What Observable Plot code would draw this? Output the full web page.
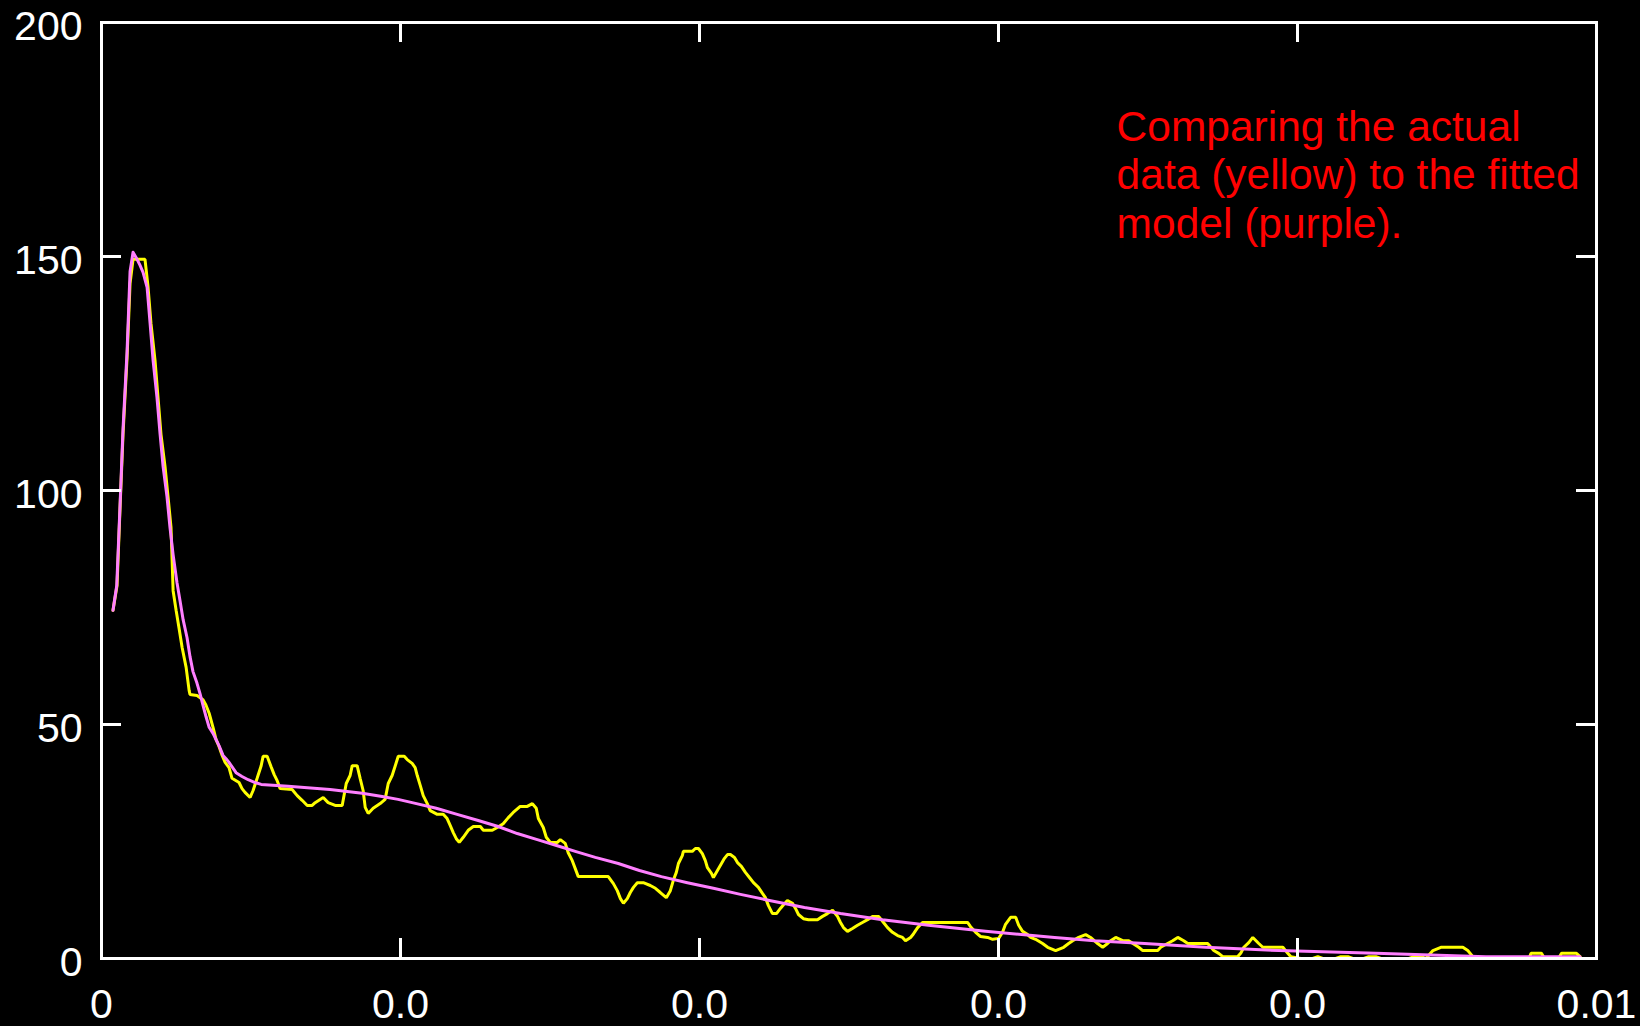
<!DOCTYPE html>
<html>
<head>
<meta charset="utf-8">
<script src="https://cdn.jsdelivr.net/npm/d3@7"></script>
<script src="https://cdn.jsdelivr.net/npm/@observablehq/plot@0.6"></script>
<style>
  html, body { margin: 0; padding: 0; background: #000; }
  #chart { width: 1640px; height: 1026px; }
</style>
</head>
<body>
<div id="chart"></div>
<script>
// ---- data (x in units of 1e-4, i.e. value = t * 1e-4) ----
const modelT = [0.77,1.02,1.24,1.44,1.71,1.91,2.11,2.38,2.58,2.78,3.05,3.25,3.45,3.71,3.92,4.12,4.38,4.58,4.79,5.05,5.25,5.46,5.72,5.92,6.12,6.39,6.59,6.79,6.99,7.20,7.46,7.66,7.86,8.13,8.33,8.53,9.00,9.40,9.81,10.27,10.68,12.48,15.29,17.44,18.77,19.84,20.78,22.39,23.79,25.20,26.53,27.81,29.15,30.49,31.69,33.03,34.57,35.98,37.45,39.19,40.93,42.74,44.68,47.02,49.43,52.24,55.32,59.13,63.75,66.43,69.78,73.86,78.75,85.24,92.60,98.90];
const modelV = [74.4,79.7,96.8,113.2,129.7,146.8,150.9,149.4,148.1,146.6,143.4,135.7,127.8,119.9,112.0,105.1,98.7,92.1,86.3,80.3,76.5,72.4,68.6,64.5,61.3,58.8,56.6,54.1,51.7,49.4,48.1,46.8,45.5,43.4,42.7,41.9,39.7,38.9,38.2,37.6,37.2,36.8,36.1,35.3,34.6,34.0,33.3,32.1,30.8,29.5,28.2,26.7,25.4,24.1,22.9,21.6,20.3,18.8,17.5,16.2,15.0,13.7,12.4,10.9,9.6,8.3,7.1,5.8,4.5,3.8,3.2,2.4,1.7,1.1,0.4,0.4];

const dataT = [0.77,1.04,1.24,1.44,1.71,1.91,2.11,2.91,3.11,3.31,3.58,3.78,3.98,4.25,4.45,4.65,4.79,4.99,5.19,5.39,5.66,5.86,5.92,6.39,6.79,6.99,7.20,7.46,7.66,7.86,8.07,8.27,8.53,8.73,9.20,9.40,9.60,9.94,10.14,10.41,10.68,10.81,11.08,11.34,11.55,11.75,11.95,12.75,13.09,13.42,13.76,14.09,14.29,14.83,15.16,15.63,16.10,16.37,16.63,16.77,17.10,17.30,17.50,17.64,17.84,18.17,18.64,18.97,19.18,19.44,19.65,19.85,20.25,20.45,20.78,20.98,21.12,21.32,21.52,21.79,21.99,22.46,22.86,23.12,23.33,23.53,23.73,23.93,24.20,24.53,24.87,25.34,25.54,26.14,26.47,26.87,27.21,27.54,28.01,28.48,28.82,29.08,29.22,29.55,29.75,30.02,30.49,30.69,31.02,31.22,31.49,31.69,31.89,33.90,34.24,34.50,34.71,34.91,35.17,35.37,35.58,35.84,36.24,36.71,37.05,37.38,37.78,38.05,38.25,38.45,38.59,38.85,38.92,39.52,39.72,39.93,40.19,40.39,40.53,40.80,40.93,41.20,41.47,41.67,41.87,42.07,42.34,42.54,42.80,43.07,43.34,43.61,43.94,44.21,44.41,44.61,44.88,45.15,45.41,45.62,45.88,46.22,46.42,46.62,46.95,47.29,47.89,48.23,48.56,48.90,49.23,49.43,49.63,49.90,50.23,50.57,50.90,51.24,51.57,51.98,52.31,52.58,52.91,53.25,53.58,53.78,54.12,54.32,54.59,54.92,57.93,58.13,58.47,58.80,59.27,59.61,60.01,60.27,60.47,60.81,61.15,61.35,61.61,61.95,62.15,62.48,62.95,63.29,63.82,64.36,64.69,64.96,65.36,65.83,66.16,66.63,66.97,67.30,67.50,67.84,68.31,68.71,69.38,69.65,70.65,70.85,71.65,71.99,72.39,72.66,73.99,74.40,74.73,75.00,76.00,76.20,76.41,76.74,77.01,77.41,77.68,79.02,79.35,79.55,80.22,81.02,81.36,81.69,82.56,82.90,83.37,83.70,84.44,84.77,85.24,85.58,87.45,87.79,88.25,88.59,89.06,89.59,91.06,91.39,91.73,92.00,95.48,95.62,96.32,96.52,97.46,97.66,98.66,98.90];
const dataV = [74.4,79.7,96.2,112.0,128.4,144.2,149.4,149.4,143.6,135.7,127.8,119.9,112.0,105.1,98.7,92.1,78.6,74.4,70.5,66.5,62.2,57.3,56.4,56.2,55.3,54.1,52.4,49.4,46.8,45.3,43.4,41.9,40.8,38.5,37.6,36.3,35.5,34.4,35.9,38.5,41.2,43.2,43.2,41.0,39.3,38.0,36.3,36.1,34.8,33.8,32.7,32.7,33.3,34.4,33.3,32.7,32.7,37.4,39.1,41.2,41.2,38.5,35.9,32.3,31.0,32.1,33.1,34.0,37.4,39.1,41.2,43.2,43.2,42.5,41.7,40.8,39.1,37.0,34.8,33.1,31.6,30.8,30.8,29.9,28.4,26.9,25.6,24.8,25.9,27.4,28.2,28.2,27.4,27.4,28.0,28.8,30.1,31.2,32.5,32.5,33.1,32.1,29.9,28.0,25.9,24.8,24.8,25.4,24.6,22.6,20.9,19.2,17.5,17.5,16.0,14.5,12.8,11.8,12.8,14.1,15.2,16.2,16.2,15.6,15.0,14.1,13.0,14.5,16.7,18.4,20.3,22.0,22.9,22.9,23.5,23.5,22.4,20.9,19.4,18.2,17.3,18.8,20.3,21.4,22.2,22.2,21.6,20.5,19.7,18.4,17.3,16.2,15.2,13.9,13.0,11.3,9.6,9.6,10.7,11.5,12.4,11.8,10.7,9.4,8.5,8.3,8.3,9.0,9.6,10.3,9.0,7.7,6.6,5.8,6.4,7.1,7.7,8.3,9.0,9.0,7.7,6.6,5.6,4.9,4.5,3.8,4.5,5.3,6.6,7.7,7.7,6.8,5.6,4.7,4.5,4.1,4.3,5.6,7.3,8.8,8.8,7.1,5.8,5.1,4.5,4.1,3.2,2.4,1.7,2.4,3.2,3.8,4.5,5.1,4.5,3.2,2.4,3.2,3.8,4.5,3.8,3.8,2.4,1.7,1.7,2.4,3.8,4.5,3.8,3.2,3.2,1.7,1.1,0.4,0.4,1.1,2.4,3.4,4.5,3.2,2.4,2.4,1.1,0.4,0,0,0.4,0,0,0.4,0.4,0,0,0.4,0.4,0,0,0.4,0.4,0,1.7,2.4,2.4,1.7,0.4,0,0,1.1,1.1,0,0,1.1,1.1,0.4];

const xTicks = [0, 0.002, 0.004, 0.006, 0.008, 0.01];
const xTickLabels = ["0", "0.0", "0.0", "0.0", "0.0", "0.01"];
const yTicks = [0, 50, 100, 150, 200];

const annotation = "Comparing the actual\ndata (yellow) to the fitted\nmodel (purple).";
const annotX = [0.00679];
const annotY = [182.1];

// ---- build tables ----
const model = modelT.map((t, i) => ({x: t * 1e-4, y: modelV[i]}));
const data = dataT.map((t, i) => ({x: t * 1e-4, y: dataV[i]}));

const W = 1640, H = 1026;
const mL = 101, mR = 44, mT = 22, mB = 68;
const frameW = W - mL - mR, frameH = H - mT - mB;
const tickLen = 20;

const chart = Plot.plot({
  width: W,
  height: H,
  marginLeft: mL,
  marginRight: mR,
  marginTop: mT,
  marginBottom: mB,
  style: {background: "#000", color: "#fff", fontFamily: "'Liberation Sans', Arial, sans-serif", fontSize: "41px"},
  x: {domain: [0, 0.01]},
  y: {domain: [0, 200]},
  marks: [
    Plot.line(data, {x: "x", y: "y", stroke: "#ffff00", strokeWidth: 3, strokeLinejoin: "miter"}),
    Plot.line(model, {x: "x", y: "y", stroke: "#ff7fff", strokeWidth: 3}),
    // inward ticks
    Plot.ruleX(xTicks.slice(1, -1), {stroke: "#fff", strokeWidth: 3, insetTop: frameH - tickLen}),
    Plot.ruleX(xTicks.slice(1, -1), {stroke: "#fff", strokeWidth: 3, insetBottom: frameH - tickLen}),
    Plot.ruleY(yTicks.slice(1, -1), {stroke: "#fff", strokeWidth: 3, insetRight: frameW - tickLen}),
    Plot.ruleY(yTicks.slice(1, -1), {stroke: "#fff", strokeWidth: 3, insetLeft: frameW - tickLen}),
    Plot.frame({stroke: "#fff", strokeWidth: 3}),
    Plot.axisX(xTicks, {anchor: "bottom", tickSize: 0, tickPadding: 30, tickFormat: (d, i) => xTickLabels[i], label: null, fill: "#fff"}),
    Plot.axisY(yTicks, {anchor: "left", tickSize: 0, tickPadding: 19, dy: 4, label: null, fill: "#fff"}),
    Plot.text([annotation], {
      x: () => annotX[0], y: () => annotY[0], text: d => d,
      fill: "#ff0000", fontSize: 42.5, fontFamily: "'Liberation Sans', Arial, sans-serif",
      textAnchor: "start", lineAnchor: "top", lineHeight: 1.145
    })
  ]
});
document.getElementById("chart").appendChild(chart);
</script>
</body>
</html>
